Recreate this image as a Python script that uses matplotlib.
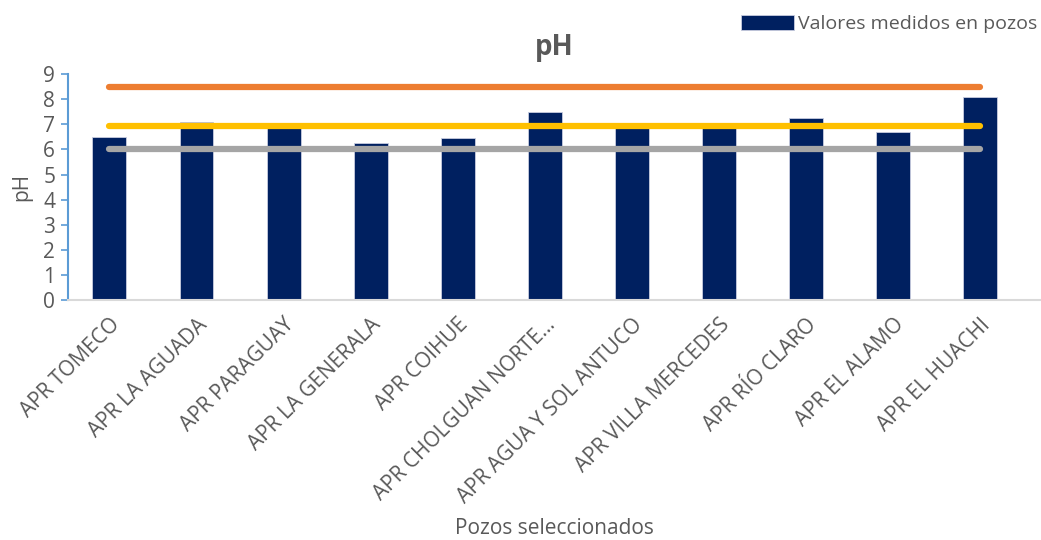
import numpy as np
import matplotlib.pyplot as plt

plt.rcParams['font.family'] = ['Open Sans', 'DejaVu Sans']

# pH measured at each well
pozos = ['APR TOMECO', 'APR LA AGUADA', 'APR PARAGUAY', 'APR LA GENERALA',
         'APR COIHUE', 'APR CHOLGUAN NORTE…', 'APR AGUA Y SOL ANTUCO',
         'APR VILLA MERCEDES', 'APR RÍO CLARO', 'APR EL ALAMO', 'APR EL HUACHI']
ph_medido = [6.5, 7.1, 6.9, 6.27, 6.45, 7.48, 6.9, 6.9, 7.25, 6.71, 8.08]

# reference levels
limite_max = 8.5
neutro = 6.95
limite_min = 6.0

text_grey = '#595959'
x = np.arange(len(pozos))

fig = plt.figure(figsize=(10.41, 5.40), dpi=100)
ax = fig.add_axes([0.065, 0.444, 0.935, 0.419])

ax.bar(x, ph_medido, width=0.39, color='#002060', edgecolor='#c8cde0',
       linewidth=0.6, label='Valores medidos en pozos', zorder=2)

for nivel, color in [(limite_max, '#ED7D31'), (neutro, '#FFC000'), (limite_min, '#A5A5A5')]:
    ax.plot(x, [nivel] * len(x), color=color, linewidth=4.5,
            solid_capstyle='round', zorder=3)

ax.set_xlim(-0.48, 10.7)
ax.set_ylim(0, 9)
ax.set_yticks(range(10))
ax.set_xticks(x)
ax.set_xticklabels(pozos, rotation=45, ha='right', rotation_mode='anchor',
                   fontsize=15, color=text_grey)
ax.tick_params(axis='y', labelsize=15, labelcolor=text_grey, color='#5B9BD5',
               length=5, width=1.2, pad=4)
ax.tick_params(axis='x', length=0, pad=10)

for side in ['top', 'right']:
    ax.spines[side].set_visible(False)
ax.spines['left'].set_color('#5B9BD5')
ax.spines['left'].set_linewidth(1.5)
ax.spines['bottom'].set_color('#D9D9D9')
ax.spines['bottom'].set_linewidth(1.5)

ax.set_ylabel('pH', fontsize=15, color=text_grey, labelpad=8)
ax.set_xlabel('Pozos seleccionados', fontsize=15, color=text_grey, labelpad=8)
ax.set_title('pH', fontsize=20, fontweight='bold', color=text_grey, pad=14)

fig.legend(loc='upper right', bbox_to_anchor=(1.013, 1.005), frameon=False,
           fontsize=14, labelcolor=text_grey, handlelength=2.7,
           handleheight=0.8, handletextpad=0.2)

fig.savefig('out.png', dpi=100)
